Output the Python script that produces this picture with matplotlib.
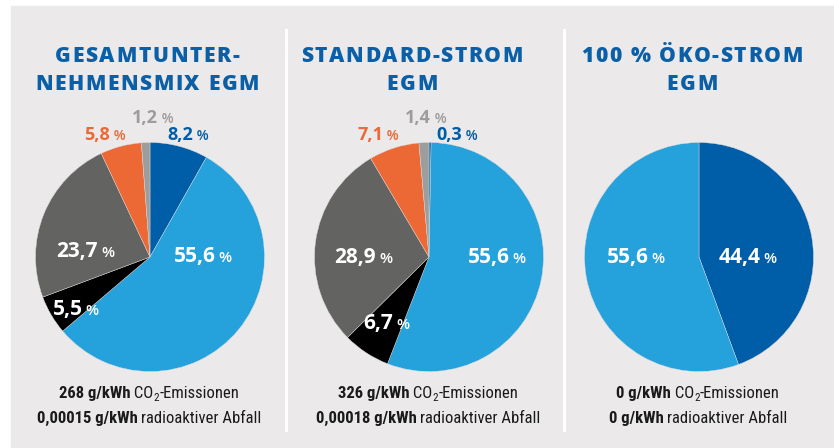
import matplotlib
matplotlib.use('Agg')
import matplotlib.pyplot as plt
from matplotlib import font_manager as fm
from matplotlib import ft2font
from matplotlib.patches import Rectangle

W, H, DPI = 834, 448, 100

# --- data -------------------------------------------------------------
sources = ['Erneuerbare mit HKN', 'Erneuerbare (EEG)', 'Sonstige fossile', 'Kohle', 'Erdgas', 'Kernkraft']
colors = ['#005da8', '#25a1db', '#000000', '#636362', '#ec6936', '#9d9d9c']

titles = ['GESAMTUNTER-\nNEHMENSMIX EGM', 'STANDARD-STROM\nEGM', '100 % ÖKO-STROM\nEGM']
mix_gesamt = [8.2, 55.6, 5.5, 23.7, 5.8, 1.2]
mix_standard = [0.3, 55.6, 6.7, 28.9, 7.1, 1.4]
mix_oeko = [44.4, 55.6]
co2 = ['268', '326', '0']
abfall = ['0,00015', '0,00018', '0']

# --- layout (pixel positions, y from top) ------------------------------
pie_centers = [(150, 257), (429, 257), (699, 257)]
pie_radius = 114.5
title_x = [147, 412, 692]
text_x = [149, 428, 698]
# label anchor per slice: (x, baseline y, colour)
label_pos = [
    [(188, 140, colors[0]), (203, 262, 'white'), (76, 315, 'white'),
     (86, 257, 'white'), (105, 140, colors[4]), (153, 123, colors[5])],
    [(457, 140, colors[0]), (497, 263, 'white'), (387, 329, 'white'),
     (364, 263, 'white'), (378, 140, colors[4]), (426, 123, colors[5])],
    [(748, 263, 'white'), (636, 263, 'white')],
]

try:
    NOHINT = ft2font.LoadFlags.NO_HINTING
except AttributeError:
    NOHINT = ft2font.LOAD_NO_HINTING


def pick_family(cands):
    for c in cands:
        try:
            fm.findfont(fm.FontProperties(family=c), fallback_to_default=False)
            return c
        except ValueError:
            pass
    return 'DejaVu Sans'


HEAD = pick_family(['Open Sans', 'Noto Sans', 'DejaVu Sans'])
BODY = pick_family(['Liberation Sans Narrow', 'Roboto Condensed', 'Open Sans', 'DejaVu Sans'])


def advance(text, family, weight, size):
    font = fm.get_font(fm.findfont(fm.FontProperties(family=family, weight=weight)))
    font.set_size(size, DPI)
    x = 0.0
    for ch in text:
        g = font.load_char(ord(ch), flags=NOHINT)
        x += g.linearHoriAdvance / 65536
    return x


def rich_text(ax, xc, y, pieces, tracking=0.0):
    # pieces: (text, size, weight, colour, family, dy)
    runs, total = [], 0.0
    for txt, size, weight, col, fam, dy in pieces:
        parts = list(txt) if tracking else [txt]
        for s in parts:
            w = advance(s, fam, weight, size) + tracking
            runs.append((s, w, size, weight, col, fam, dy))
            total += w
    total -= tracking
    x = xc - total / 2
    for s, w, size, weight, col, fam, dy in runs:
        ax.text(x, H - y + dy, s, fontsize=size, fontweight=weight, family=fam,
                color=col, ha='left', va='baseline')
        x += w


def fmt(v):
    return ('%.1f' % v).replace('.', ',')


fig = plt.figure(figsize=(W / DPI, H / DPI), dpi=DPI)
fig.patch.set_facecolor('white')
ax = fig.add_axes([0, 0, 1, 1])

ax.add_patch(Rectangle((11, 0), W - 11, H - 6, color='#ebe9ea', zorder=0))
for sx in [286, 564]:
    ax.plot([sx, sx], [H - 30, H - 430], color='white', lw=2.2, zorder=1)

mixes = [mix_gesamt, mix_standard, mix_oeko]
for i, vals in enumerate(mixes):
    cx, cy = pie_centers[i]
    ax.pie(vals, colors=colors[:len(vals)], startangle=90, counterclock=False,
           center=(cx, H - cy), radius=pie_radius,
           wedgeprops=dict(linewidth=0.3, edgecolor='#dcdcdc'))
    for v, pos in zip(vals, label_pos[i]):
        lx, ly, col = pos
        inner = col == 'white'
        big = 15 if inner else 13
        small = 11 if inner else 10
        rich_text(ax, lx, ly, [(fmt(v), big, 'bold', col, HEAD, 0),
                               (' %', small, 'semibold', col, HEAD, 0)])

    for k, line in enumerate(titles[i].split('\n')):
        rich_text(ax, title_x[i], 62 + 28 * k,
                  [(line, 15.2, 'heavy', '#0a5fa6', HEAD, 0)], tracking=1.6)

    rich_text(ax, text_x[i], 398,
              [(co2[i] + ' g/kWh', 12, 'bold', '#1a1a1a', BODY, 0),
               (' CO', 12, 'normal', '#1a1a1a', BODY, 0),
               ('2', 8, 'normal', '#1a1a1a', BODY, -3),
               ('-Emissionen', 12, 'normal', '#1a1a1a', BODY, 0)])
    rich_text(ax, text_x[i], 423,
              [(abfall[i] + ' g/kWh', 12, 'bold', '#1a1a1a', BODY, 0),
               (' radioaktiver Abfall', 12, 'normal', '#1a1a1a', BODY, 0)])

ax.set_xlim(0, W)
ax.set_ylim(0, H)
ax.set_aspect('auto')
ax.axis('off')

fig.savefig('out.png', dpi=DPI, facecolor=fig.get_facecolor())
